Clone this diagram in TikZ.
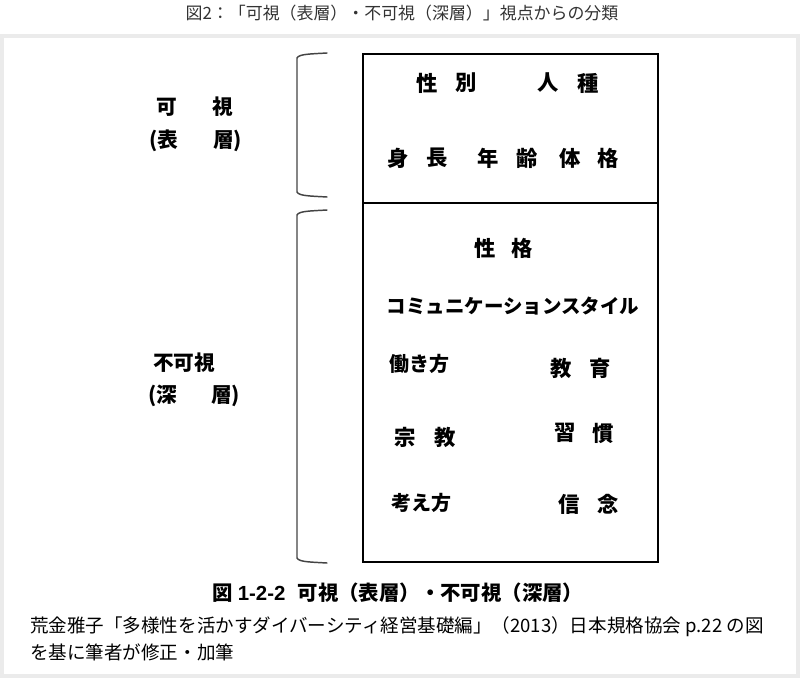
\documentclass[tikz,border=0pt]{standalone}
\usepackage{fontspec}
\setmainfont{Noto Sans CJK JP}
\newfontfamily\jp{Noto Sans CJK JP}
\newfontfamily\lat{Liberation Sans}
\definecolor{framegray}{HTML}{EBEBEB}
\definecolor{titlegray}{HTML}{333333}
\definecolor{brackgray}{HTML}{444444}
\begin{document}
\begin{tikzpicture}[x=0.75pt,y=-0.75pt,
  boxtxt/.style={inner sep=0pt,font=\jp\bfseries\fontsize{16}{16}\selectfont},
  lefttxt/.style={inner sep=0pt,font=\jp\bfseries\fontsize{15.5}{15.5}\selectfont},
  brack/.style={draw=brackgray,line width=1.1pt,line cap=round},
  srctxt/.style={inner sep=0pt,anchor=west,font=\jp\fontsize{13.9}{13.9}\selectfont}]
\useasboundingbox (0,0) rectangle (800,678);
\fill[white] (0,0) rectangle (800,678);
% outer light frame
\draw[framegray,line width=3pt] (2,35.5) rectangle (798,676);
% title
\node[inner sep=0pt,text=titlegray,font=\jp\fontsize{12.7}{12.7}\selectfont] (title) at (402,13) {図2：「可視（表層）・不可視（深層）」視点からの分類};
% main box
\draw[line width=1.6pt] (363,54) rectangle (658,562);
\coordinate (divL) at (363,203);
\coordinate (divR) at (658,203);
\draw[line width=1.6pt] (divL) -- (divR);
% brackets
\draw[brack] (327,53) .. controls (310,54) and (299,54) .. (297,58) -- (297,192) .. controls (299,196) and (310,196) .. (327,197);
\draw[brack] (327,210) .. controls (310,211) and (299,211) .. (297,215) -- (297,558) .. controls (299,562) and (310,562) .. (327,563);
% left labels
\node[lefttxt] (ka) at (167,107) {可};
\node[lefttxt] (shi) at (223,107) {視};
\node[lefttxt] (hyo) at (163.5,141) {(表};
\node[lefttxt] (so1) at (227.5,141) {層)};
\node[lefttxt] (fukashi) at (184,363) {不可視};
\node[lefttxt] (shin) at (163,396) {(深};
\node[lefttxt] (so2) at (225.5,396) {層)};
% upper box text
\node[boxtxt] (a1) at (427,83) {性};
\node[boxtxt] (a2) at (466,83) {別};
\node[boxtxt] (a3) at (548,83) {人};
\node[boxtxt] (a4) at (588,83) {種};
\node[boxtxt] (b1) at (398,158) {身};
\node[boxtxt] (b2) at (437,158) {長};
\node[boxtxt] (b3) at (488,158) {年};
\node[boxtxt] (b4) at (527,158) {齢};
\node[boxtxt] (b5) at (570,158) {体};
\node[boxtxt] (b6) at (608,158) {格};
% lower box text
\node[boxtxt] (c1) at (485,248) {性};
\node[boxtxt] (c2) at (522,248) {格};
\node[boxtxt,font=\jp\bfseries\fontsize{14.6}{14.6}\selectfont] (comm) at (513,306) {コミュニケーションスタイル};
\node[boxtxt,font=\jp\bfseries\fontsize{15}{15}\selectfont] (hataraki) at (419,364) {働き方};
\node[boxtxt] (d1) at (561,368) {教};
\node[boxtxt] (d2) at (600,368) {育};
\node[boxtxt] (e1) at (405,437) {宗};
\node[boxtxt] (e2) at (445,437) {教};
\node[boxtxt] (e3) at (565,433) {習};
\node[boxtxt] (e4) at (603,433) {慣};
\node[boxtxt,font=\jp\bfseries\fontsize{15}{15}\selectfont] (kangae) at (421,503) {考え方};
\node[boxtxt] (f1) at (569,504) {信};
\node[boxtxt] (f2) at (608,504) {念};
% caption
\node[inner sep=0pt,font=\jp\bfseries\fontsize{15.3}{15.3}\selectfont] (cap) at (398,593) {図 {\lat\bfseries 1-2-2}\hspace{0.6em}可視（表層）・不可視（深層）};
% source
\node[srctxt] (src1) at (30,627) {荒金雅子「多様性を活かすダイバーシティ経営基礎編」（2013）日本規格協会 p.22 の図};
\node[srctxt] (src2) at (30,652) {を基に筆者が修正・加筆};
\end{tikzpicture}
\end{document}
